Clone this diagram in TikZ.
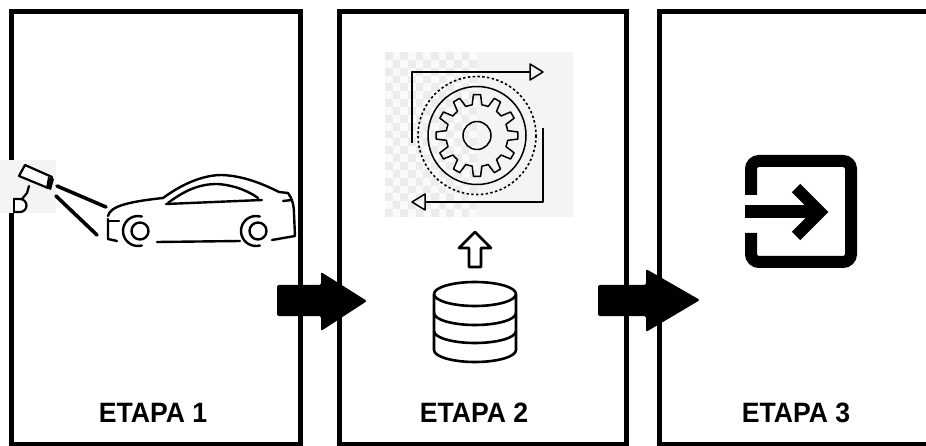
\documentclass[tikz,border=0pt]{standalone}
\usepackage{fontspec}
\setmainfont{Liberation Sans}
\begin{document}
\begin{tikzpicture}[x=1pt,y=-1pt,
  panel/.style={draw=black, line width=5pt, inner sep=0pt, minimum height=432.5pt},
  etapa/.style={font=\bfseries\fontsize{28}{32}\selectfont, xscale=0.95, inner sep=0pt},
  blockarrow/.style={fill=black, rounded corners=2pt},
  carline/.style={line width=2.4pt, line cap=round, line join=round},
  thin icon/.style={line width=1.5pt, line join=round},
  db/.style={line width=2.6pt, line join=round}]
\clip (0,0) rectangle (926,446);
\fill[white] (0,0) rectangle (926,446);

% the three stage panels
\node[panel, minimum width=289pt] (p1) at (156,227.75) {};
\node[panel, minimum width=287pt] (p2) at (483,227.75) {};
\node[panel, minimum width=300pt] (p3) at (809.5,227.75) {};

% stage captions
\node[etapa] (l1) at (153,413) {ETAPA 1};
\node[etapa] (l2) at (474,413) {ETAPA 2};
\node[etapa] (l3) at (796,413) {ETAPA 3};

% ---------- stage 1: camera watching a car ----------
\fill[gray!9] (0,160) rectangle (56,213);
\draw[line width=2.2pt, fill=white, line join=round] (19,176) -- (25,165) -- (52,177) -- (48,188) -- cycle;
\fill[black] (48,177) -- (54,179) -- (51,190) -- (46,188) -- cycle;
\draw[line width=2.2pt, line cap=round] (29,186) -- (27,193) -- (22,199);
\draw[line width=2.2pt, fill=white] (14,199) -- (20,199) arc[start angle=-90, end angle=90, radius=6.5] -- (14,212);
\draw[line width=2.2pt] (14,198) -- (14,213);
\draw[line width=3.6pt, line cap=round] (57,186) -- (106,207);
\draw[line width=3.6pt, line cap=round] (56,196) -- (97,235);

% car body
\draw[carline] (108,216) .. controls (110,207) and (125,202) .. (163,198)
  .. controls (185,182) and (205,175) .. (222,175)
  .. controls (245,176) and (265,185) .. (279,192)
  -- (288,193) .. controls (292,198) and (294,205) .. (294,214)
  -- (295,236) -- (272,240);
\draw[carline] (108,219) -- (108,239) -- (117,241);
\draw[carline] (108,221) -- (119,221);
\draw[carline] (157,242) -- (240,241);
\draw[carline] (168,203) .. controls (185,190) and (200,184) .. (217,184)
  .. controls (235,185) and (250,192) .. (258,198);
\draw[carline] (166,204) -- (262,200);
\draw[carline] (283,201) -- (292,200);
% wheels
\draw[carline] (138,231) ++(75:15) arc[start angle=75, end angle=285, radius=15];
\draw[carline] (140,231) circle[radius=8.5];
\draw[carline] (256,231) ++(75:15) arc[start angle=75, end angle=285, radius=15];
\draw[carline] (258,231) circle[radius=8.5];

% ---------- stage 2: processing gear over a database ----------
\fill[gray!9] (477,52) rectangle (573,217);
\foreach \i in {0,...,11} {
  \foreach \j in {0,...,20} {
    \pgfmathparse{mod(\i+\j,2)==0 ? 1 : 0}
    \ifnum\pgfmathresult=1
      \fill[gray!15] ({385+\i*7.67},{52+\j*7.86}) rectangle ++(7.67,7.86);
    \else
      \fill[gray!4] ({385+\i*7.67},{52+\j*7.86}) rectangle ++(7.67,7.86);
    \fi
  }
}
% cycle arrows
\draw[thin icon] (412,143) -- (412,72) -- (530,72);
\draw[thin icon] (530,64) -- (543,72) -- (530,80) -- cycle;
\draw[thin icon] (543,128) -- (543,202) -- (425,202);
\draw[thin icon] (425,194) -- (412,202) -- (425,210) -- cycle;
% gear
\begin{scope}[shift={(477,135.5)}]
  \draw[line width=1.6pt, dash pattern=on 2.4pt off 2.4pt] (0,0) circle[radius=59];
  \draw[thin icon] (0,0) circle[radius=49];
  \draw[thin icon] (-9:31) \foreach \k in {0,...,11} {
      -- ({\k*30-5}:41) -- ({\k*30+5}:41) -- ({\k*30+9}:31)
      arc[start angle={\k*30+9}, end angle={\k*30+21}, radius=31] } -- cycle;
  \draw[thin icon] (0,0) circle[radius=14];
\end{scope}
% upload arrow
\draw[db, fill=white] (469,267) -- (469,248) -- (459,248) -- (475,232) -- (491,248) -- (481,248) -- (481,267) -- cycle;
% database cylinder
\draw[db] (434,294) -- (434,350) arc[start angle=180, end angle=0, x radius=41, y radius=12] -- (516,294);
\draw[db] (475,294) ellipse[x radius=41, y radius=12];
\draw[db] (434,313) arc[start angle=180, end angle=0, x radius=41, y radius=12];
\draw[db] (434,331) arc[start angle=180, end angle=0, x radius=41, y radius=12];

% ---------- stage 3: exit / output icon ----------
\draw[line width=12pt, rounded corners=8pt] (751,195) -- (751,161) -- (851,161) -- (851,262) -- (751,262) -- (751,233);
\draw[line width=13pt] (745,211.5) -- (816,211.5);
\draw[line width=12pt, miter limit=4] (796,188) -- (820,212) -- (796,236);

% ---------- arrows between stages ----------
\fill[blockarrow] (277,285) -- (321,285) -- (321,272) -- (367,301) -- (321,331) -- (321,316) -- (277,316) -- cycle;
\fill[blockarrow] (598,285) -- (646,285) -- (646,269) -- (700,300) -- (646,332) -- (646,316) -- (598,316) -- cycle;
\end{tikzpicture}
\end{document}
